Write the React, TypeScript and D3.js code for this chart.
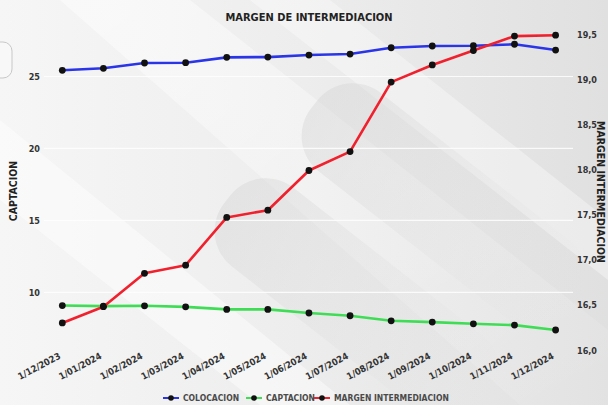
import React from "react";
import * as d3 from "d3";

const dates = ["1/12/2023","1/01/2024","1/02/2024","1/03/2024","1/04/2024","1/05/2024","1/06/2024","1/07/2024","1/08/2024","1/09/2024","1/10/2024","1/11/2024","1/12/2024"];
const colocacion = [25.43,25.57,25.94,25.96,26.33,26.35,26.49,26.56,27.0,27.12,27.14,27.24,26.84];
const captacion = [9.08,9.04,9.06,8.99,8.81,8.81,8.56,8.37,8.02,7.93,7.81,7.72,7.38];
const margen = [16.3,16.48,16.85,16.94,17.47,17.55,17.99,18.2,18.97,19.16,19.32,19.48,19.49];
const leftTicks = [10,15,20,25];
const rightTicks = [16,16.5,17,17.5,18,18.5,19,19.5];

const W = 608, H = 405;
const FONT = "'DejaVu Sans Condensed', 'DejaVu Sans', sans-serif";

export default function App() {
  const x = d3.scalePoint<string>().domain(dates).range([62.3, 555.6]);
  const yL = d3.scaleLinear().domain([10, 25]).range([292.3, 76.5]);
  const yR = d3.scaleLinear().domain([16, 19.5]).range([350, 34.3]);
  const lineL = d3.line<number>().x((_, i) => x(dates[i])!).y(d => yL(d));
  const lineR = d3.line<number>().x((_, i) => x(dates[i])!).y(d => yR(d));

  const series = [
    { name: "COLOCACION", data: colocacion, color: "#2a35e8", line: lineL, y: yL },
    { name: "CAPTACION", data: captacion, color: "#3edd55", line: lineL, y: yL },
    { name: "MARGEN INTERMEDIACION", data: margen, color: "#f0202c", line: lineR, y: yR },
  ];

  const legendX = [163, 246, 314];

  return (
    <svg width={W} height={H} style={{ position: "absolute", left: 0, top: 0, display: "block" }} fontFamily={FONT}>
      <defs>
        <linearGradient id="bg" x1="0" y1="0" x2="1" y2="0">
          <stop offset="0" stopColor="#f6f6f6" />
          <stop offset="0.5" stopColor="#ededed" />
          <stop offset="1" stopColor="#e0e0e0" />
        </linearGradient>
        <linearGradient id="band" x1="0" y1="0" x2="1" y2="1">
          <stop offset="0" stopColor="#ffffff" stopOpacity="0.9" />
          <stop offset="1" stopColor="#ffffff" stopOpacity="0.1" />
        </linearGradient>
        <linearGradient id="dark" x1="0" y1="0" x2="1" y2="0">
          <stop offset="0" stopColor="#d2d2d2" stopOpacity="0.8" />
          <stop offset="1" stopColor="#d8d8d8" stopOpacity="0" />
        </linearGradient>
      </defs>
      <rect width={W} height={H} fill="url(#bg)" />
      <polygon points="60,0 190,0 608,330 608,405 520,405" fill="url(#band)" opacity="0.55" />
      <polygon points="0,120 0,200 260,405 350,405" fill="#ffffff" opacity="0.45" />
      <polygon points="250,0 330,0 608,220 608,280" fill="#ffffff" opacity="0.35" />
      <rect x={345} y={65} width={330} height={100} rx={45} transform="rotate(38 345 65)" fill="url(#dark)" opacity="0.5" />
      <rect x={258} y={160} width={330} height={100} rx={45} transform="rotate(38 258 160)" fill="url(#dark)" opacity="0.5" />
      <rect x={-22} y={42} width={34} height={36} rx={9} fill="#f8f8f8" stroke="#c8c8c8" strokeWidth={1} />

      {leftTicks.map(t => (
        <line key={"g" + t} x1={44} x2={573} y1={yL(t)} y2={yL(t)} stroke="#ffffff" strokeWidth={1.2} opacity={0.85} />
      ))}

      <text x={309} y={21} textAnchor="middle" fontSize={11} fontWeight="bold" fill="#222">MARGEN DE INTERMEDIACION</text>

      {leftTicks.map(t => (
        <text key={"l" + t} x={40} y={yL(t) + 3.5} textAnchor="end" fontSize={9} fontWeight="bold" fill="#333">{t}</text>
      ))}
      {rightTicks.map(t => (
        <text key={"r" + t} x={577} y={yR(t) + 3.5} fontSize={9} fontWeight="bold" fill="#333">{d3.format(".1f")(t).replace(".", ",")}</text>
      ))}

      <text transform={`translate(17,191) rotate(-90)`} textAnchor="middle" fontSize={10.5} fontWeight="bold" fill="#222">CAPTACION</text>
      <text transform={`translate(597,192) rotate(90)`} textAnchor="middle" fontSize={10.5} fontWeight="bold" fill="#222">MARGEN INTERMEDIACION</text>

      {dates.map(d => (
        <text key={d} transform={`translate(${x(d)! - 1},358) rotate(-28)`} textAnchor="end" fontSize={9.3} fontWeight="bold" fill="#333">{d}</text>
      ))}

      {series.map(s => (
        <g key={s.name}>
          <path d={s.line(s.data)!} fill="none" stroke={s.color} strokeWidth={2.6} strokeLinejoin="round" />
          {s.data.map((v, i) => (
            <circle key={i} cx={x(dates[i])} cy={s.y(v)} r={3.4} fill="#111" />
          ))}
        </g>
      ))}

      {series.map((s, i) => (
        <g key={"lg" + s.name} transform={`translate(${legendX[i]},398)`}>
          <line x1={0} x2={16} y1={0} y2={0} stroke={s.color} strokeWidth={2} />
          <circle cx={8} cy={0} r={2.8} fill="#111" />
          <text x={20} y={3} fontSize={8.5} fontWeight="bold" fill="#4a4a4a">{s.name}</text>
        </g>
      ))}
    </svg>
  );
}
